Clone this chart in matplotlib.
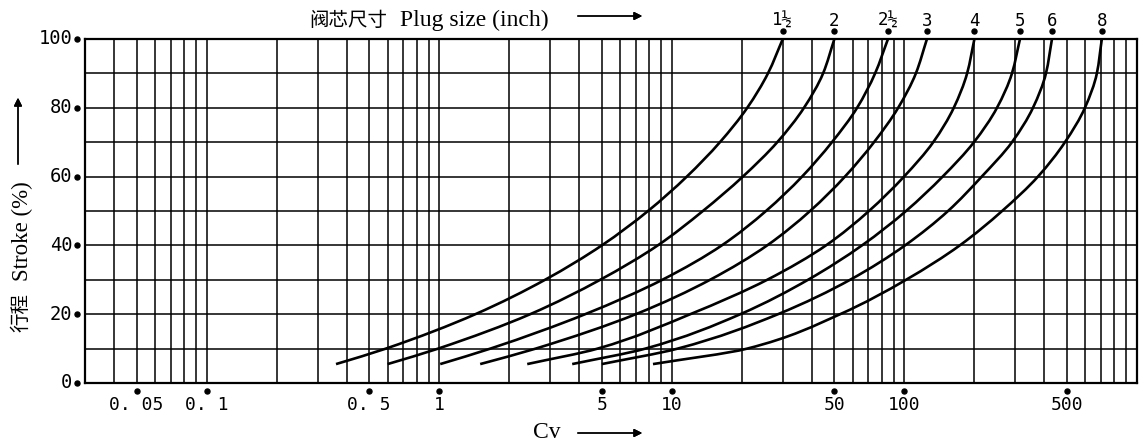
import numpy as np
import matplotlib.pyplot as plt
from matplotlib.path import Path
from matplotlib.patches import PathPatch
from matplotlib.ticker import LogLocator, NullFormatter
from matplotlib.transforms import blended_transform_factory

# stroke levels (%) where each curve was read
stroke = [5.5, 10, 20, 30, 40, 50, 60, 70, 80, 90, 100]

# Cv for each plug size
plug_sizes = ["1½", "2", "2½", "3", "4", "5", "6", "8"]
cv_1h = [0.36, 0.59, 1.43, 2.85, 5.0, 7.9, 11.6, 16.1, 21.1, 25.9, 30]
cv_2 = [0.6, 0.99, 2.46, 4.92, 8.7, 13.6, 20.2, 28.4, 37, 44.7, 50]
cv_2h = [1.01, 1.66, 4.24, 9.1, 16.4, 25.4, 36.3, 48.8, 62.6, 74.8, 85]
cv_3 = [1.5, 2.6, 7.0, 14.6, 25.7, 39.3, 55.5, 74, 94, 112, 125]
cv_4 = [2.39, 4.8, 12, 25.7, 46, 70.4, 99.6, 133, 163, 186, 200]
cv_5 = [3.73, 7.7, 19.7, 38.5, 65.7, 101.6, 146, 199, 250, 290, 314]
cv_6 = [5.0, 10.6, 28.6, 58.4, 100.6, 154, 215, 290, 357, 406, 431]
cv_8 = [8.3, 21.1, 52.9, 101.6, 173, 263, 375, 490, 597, 672, 706]
curves = [cv_1h, cv_2, cv_2h, cv_3, cv_4, cv_5, cv_6, cv_8]

cv_ticks = [0.05, 0.1, 0.5, 1, 5, 10, 50, 100, 500]
cv_labels = ["0. 05", "0. 1", "0. 5", "1", "5", "10", "50", "100", "500"]
stroke_ticks = [0, 20, 40, 60, 80, 100]


def smooth_path(cv, s):
    # monotone cubic (Fritsch-Carlson) through the read points, log(Cv) as a function of stroke
    u = np.log10(cv)
    y = np.asarray(s, float)
    h = np.diff(y)
    d = np.diff(u) / h
    m = np.empty_like(u)
    m[0], m[-1] = d[0], d[-1]
    for i in range(1, len(u) - 1):
        if d[i - 1] * d[i] <= 0:
            m[i] = 0
        else:
            w1, w2 = 2 * h[i] + h[i - 1], h[i] + 2 * h[i - 1]
            m[i] = (w1 + w2) / (w1 / d[i - 1] + w2 / d[i])
    verts, codes = [(u[0], y[0])], [Path.MOVETO]
    for i in range(len(h)):
        verts += [(u[i] + m[i] * h[i] / 3, y[i] + h[i] / 3),
                  (u[i + 1] - m[i + 1] * h[i] / 3, y[i + 1] - h[i] / 3),
                  (u[i + 1], y[i + 1])]
        codes += [Path.CURVE4] * 3
    verts = np.array(verts)
    verts[:, 0] = 10 ** verts[:, 0]
    return Path(verts, codes)


W, H = 1139, 443
fig = plt.figure(figsize=(W / 100, H / 100), dpi=100)
ax = fig.add_axes([85 / W, (H - 383) / H, 1052 / W, 344 / H])

ax.set_xscale("log")
ax.xaxis.set_major_locator(LogLocator(base=10))
ax.xaxis.set_minor_locator(LogLocator(base=10, subs=range(2, 10)))
ax.xaxis.set_minor_formatter(NullFormatter())
ax.set_yticks(range(0, 101, 10))
ax.grid(True, which="both", axis="x", color="k", lw=1.1)
ax.grid(True, which="major", axis="y", color="k", lw=1.1)
ax.tick_params(which="both", length=0, labelbottom=False, labelleft=False)
for s in ax.spines.values():
    s.set_linewidth(1.6)

for cv in curves:
    ax.add_patch(PathPatch(smooth_path(cv, stroke), fill=False, edgecolor="k",
                           lw=1.9, capstyle="butt", zorder=3))
ax.set_xlim(0.03, 1000)
ax.set_ylim(0, 100)

mono = "DejaVu Sans Mono"

# x tick dots + labels
ax.plot(cv_ticks, [-2.2] * len(cv_ticks), "o", color="k", ms=3.6, clip_on=False)
for v, lab in zip(cv_ticks, cv_labels):
    ax.text(v, -6.5, lab, ha="center", va="center", fontsize=13,
            family=mono, clip_on=False)

# y tick dots + labels
ty = blended_transform_factory(ax.transAxes, ax.transData)
ax.plot([-0.0075] * len(stroke_ticks), stroke_ticks, "o", color="k", ms=3.6,
        clip_on=False, transform=ty)
for v in stroke_ticks:
    ax.text(-0.012, v, str(v), ha="right", va="center", fontsize=13.5,
            family=mono, transform=ty)

# plug size dots + labels on top
tops = [cv[-1] for cv in curves]
ax.plot(tops, [102.2] * len(tops), "o", color="k", ms=3.6, clip_on=False)
for v, lab in zip(tops, plug_sizes):
    ax.text(v, 105.3, lab, ha="center", va="center", fontsize=12.5,
            family=mono, clip_on=False)

serif = "Liberation Serif"
cjk = "Noto Sans CJK SC"
fig.text(348 / W, 1 - 20 / H, "阀芯尺寸", ha="center", va="center",
         fontsize=14, family=cjk)
fig.text(400 / W, 1 - 20 / H, "Plug size (inch)", ha="left", va="center",
         fontsize=17, family=serif)
fig.text(547 / W, 1 - 432 / H, "Cv", ha="center", va="center", fontsize=17,
         family=serif)
fig.text(22 / W, 1 - 231 / H, "Stroke (%)", ha="center", va="center",
         rotation=90, fontsize=16.5, family=serif)
fig.text(21 / W, 1 - 313 / H, "行程", ha="center", va="center",
         rotation=90, fontsize=14, family=cjk)

arrow = dict(arrowstyle="-|>", color="k", lw=1.0, mutation_scale=12)
fig.add_artist(plt.annotate("", xy=(645 / W, 1 - 16 / H), xytext=(575 / W, 1 - 16 / H),
                            xycoords="figure fraction", arrowprops=arrow))
fig.add_artist(plt.annotate("", xy=(645 / W, 1 - 433 / H), xytext=(575 / W, 1 - 433 / H),
                            xycoords="figure fraction", arrowprops=arrow))
fig.add_artist(plt.annotate("", xy=(18 / W, 1 - 95 / H), xytext=(18 / W, 1 - 167 / H),
                            xycoords="figure fraction", arrowprops=arrow))

fig.savefig("out.png", dpi=100, facecolor="white")
